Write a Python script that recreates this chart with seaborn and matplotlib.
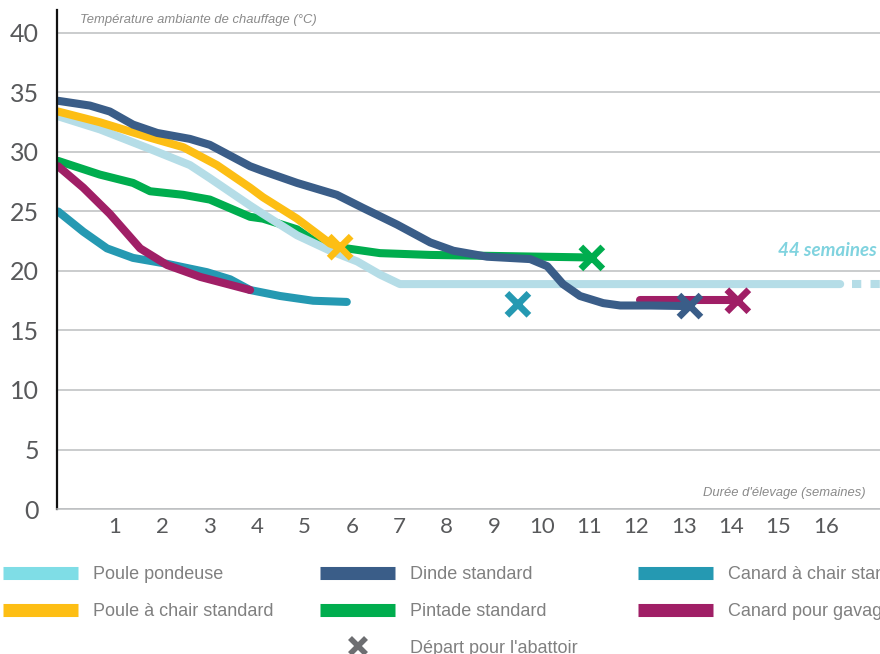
import matplotlib.pyplot as plt
from matplotlib.lines import Line2D
import seaborn as sns

# température ambiante de chauffage (°C) par semaine d'élevage
pondeuse_x = [-0.20, 0.68, 1.74, 2.58, 3.00, 3.85, 4.12, 4.84, 5.54, 6.11, 6.59, 7.01, 7.65, 16.30]
pondeuse_y = [33.0, 31.9, 30.25, 28.9, 27.8, 25.5, 24.8, 23.0, 21.7, 20.8, 19.7, 18.9, 18.9, 18.9]
pondeuse_suite_x = [16.54, 17.14]
pondeuse_suite_y = [18.9, 18.9]

chair_x = [-0.20, 0.68, 1.74, 2.44, 3.15, 3.85, 4.12, 4.84, 5.54, 5.75]
chair_y = [33.4, 32.5, 31.2, 30.4, 28.9, 27.0, 26.2, 24.4, 22.3, 22.0]

dinde_x = [-0.20, 0.47, 0.89, 1.38, 1.89, 2.58, 3.00, 3.85, 4.12, 4.84, 5.68, 6.23,
           6.95, 7.65, 8.14, 8.85, 9.76, 10.12, 10.45, 10.81, 11.30, 11.66, 12.29, 13.13]
dinde_y = [34.3, 33.9, 33.4, 32.3, 31.6, 31.1, 30.6, 28.8, 28.4, 27.4, 26.4, 25.3,
           23.9, 22.4, 21.7, 21.2, 21.0, 20.4, 18.9, 17.9, 17.3, 17.1, 17.1, 17.05]

pintade_x = [-0.20, 0.68, 1.38, 1.74, 2.44, 3.00, 3.85, 4.12, 4.84, 5.17, 5.89, 6.59, 7.65, 10.81, 11.06]
pintade_y = [29.25, 28.1, 27.4, 26.7, 26.4, 26.0, 24.55, 24.4, 23.5, 22.6, 21.9, 21.5, 21.35, 21.15, 21.1]

canard_chair_x = [-0.20, 0.33, 0.83, 1.38, 2.10, 2.94, 3.43, 3.85, 4.48, 5.18, 5.89]
canard_chair_y = [25.0, 23.3, 21.9, 21.1, 20.6, 19.9, 19.3, 18.4, 17.9, 17.5, 17.4]

gavage_x = [-0.20, 0.33, 0.89, 1.53, 2.10, 2.80, 3.85]
gavage_y = [28.8, 27.0, 24.8, 21.9, 20.5, 19.5, 18.4]
gavage_fin_x = [12.08, 14.14]
gavage_fin_y = [17.6, 17.6]

# départ pour l'abattoir
depart_espece = ['chair', 'pintade', 'dinde', 'canard_chair', 'gavage']
depart_x = [5.75, 11.06, 13.13, 9.50, 14.14]
depart_y = [22.0, 21.1, 17.05, 17.2, 17.5]

couleurs = {
    'pondeuse': '#b5dde7',
    'chair': '#fdbe14',
    'dinde': '#3a5d88',
    'pintade': '#00ad4e',
    'canard_chair': '#2599b2',
    'gavage': '#a01f66',
}
couleur_legende_pondeuse = '#7fdde6'

sns.set_style('white')
plt.rcParams['font.family'] = ['Lato', 'DejaVu Sans']

fig = plt.figure(figsize=(8.8, 6.54), dpi=100)
ax = fig.add_axes([0.0648, 0.2217, 0.9352, 0.7630])

lw = 5.8
style = dict(ax=ax, linewidth=lw, sort=False, estimator=None, legend=False,
             solid_capstyle='round', solid_joinstyle='round')
sns.lineplot(x=pintade_x, y=pintade_y, color=couleurs['pintade'], **style)
sns.lineplot(x=pondeuse_x, y=pondeuse_y, color=couleurs['pondeuse'], **style)
sns.lineplot(x=pondeuse_suite_x, y=pondeuse_suite_y, color=couleurs['pondeuse'],
             ax=ax, linewidth=lw, sort=False, estimator=None, legend=False,
             linestyle=(0, (1.15, 1.15)), dash_capstyle='butt')
sns.lineplot(x=canard_chair_x, y=canard_chair_y, color=couleurs['canard_chair'], **style)
sns.lineplot(x=gavage_x, y=gavage_y, color=couleurs['gavage'], **style)
sns.lineplot(x=gavage_fin_x, y=gavage_fin_y, color=couleurs['gavage'], **style)
sns.lineplot(x=chair_x, y=chair_y, color=couleurs['chair'], **style)
sns.lineplot(x=dinde_x, y=dinde_y, color=couleurs['dinde'], **style)

sns.scatterplot(x=depart_x, y=depart_y, hue=depart_espece, palette=couleurs,
                marker='x', s=250, linewidth=4.8, legend=False, ax=ax, zorder=5)

ax.set_xlim(-0.224, 17.14)
ax.set_ylim(0, 41.93)
ax.set_yticks(range(0, 41, 5))
ax.set_xticks(range(1, 17))
ax.tick_params(axis='y', length=0, pad=13, labelsize=18, labelcolor='#58595b')
ax.tick_params(axis='x', length=0, pad=6, labelsize=16, labelcolor='#58595b')
ax.set_axisbelow(True)
ax.grid(axis='y', color='#bcbec0', linewidth=1.1)
ax.grid(axis='x', visible=False)
for side in ['top', 'right']:
    ax.spines[side].set_visible(False)
ax.spines['left'].set_color('#111111')
ax.spines['left'].set_linewidth(1.6)
ax.spines['bottom'].set_color('#bcbec0')
ax.spines['bottom'].set_linewidth(1.1)

titre_font = ['Liberation Sans', 'DejaVu Sans']
fig.text(80 / 880, 1 - 20 / 654, 'Température ambiante de chauffage (°C)',
         family=titre_font, style='italic', fontsize=9.4, color='#8a8a8a', va='center')
fig.text(866 / 880, 1 - 493 / 654, "Durée d'élevage (semaines)",
         family=titre_font, style='italic', fontsize=9.4, color='#8a8a8a',
         ha='right', va='center')
fig.text(877 / 880, 1 - 250 / 654, '44 semaines', style='italic', weight='bold',
         fontsize=13.5, color='#80d3df', ha='right', va='center')

# légende en trois colonnes
def swatch(c):
    return Line2D([], [], color=c, linewidth=9.4, solid_capstyle='butt')

colonnes = [
    ([swatch(couleur_legende_pondeuse), swatch(couleurs['chair'])],
     ['Poule pondeuse', 'Poule à chair standard'], 3),
    ([swatch(couleurs['dinde']), swatch(couleurs['pintade']),
      Line2D([], [], linestyle='none', marker='x', color='#6d6e71',
             markersize=12, markeredgewidth=4)],
     ['Dinde standard', 'Pintade standard', "Départ pour l'abattoir"], 320),
    ([swatch(couleurs['canard_chair']), swatch(couleurs['gavage'])],
     ['Canard à chair standard', 'Canard pour gavage'], 638),
]
for handles, labels, x0 in colonnes:
    fig.legend(handles, labels, loc='upper left',
               bbox_to_anchor=(x0 / 880, 1 - 566 / 654), bbox_transform=fig.transFigure,
               frameon=False, borderpad=0, borderaxespad=0, handlelength=4.17,
               handletextpad=0.8, labelspacing=1.1,
               prop={'family': ['Liberation Sans', 'DejaVu Sans'], 'size': 13},
               labelcolor='#808080')

fig.savefig('out.png', dpi=100)
